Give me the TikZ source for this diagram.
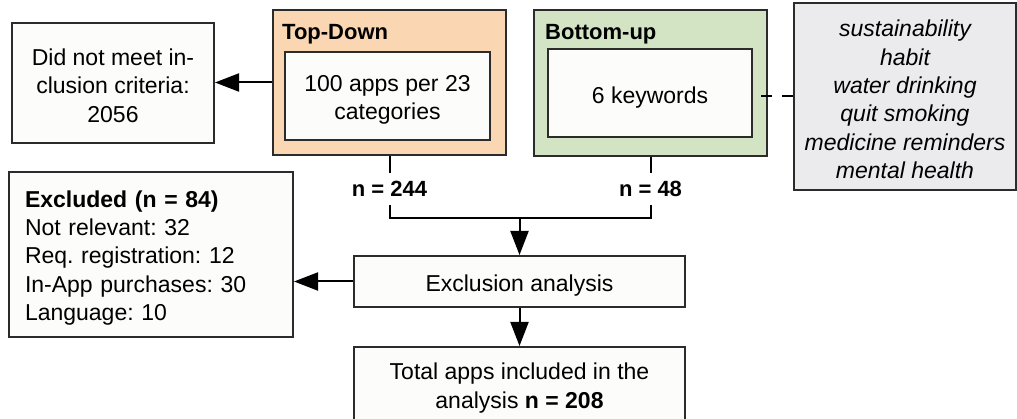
\documentclass[tikz,border=0pt]{standalone}
\usepackage{fontspec}
\setmainfont{Liberation Sans}
\frenchspacing
\usetikzlibrary{arrows.meta}
\definecolor{edge}{HTML}{2B2B2B}
\definecolor{peach}{HTML}{FAD6B2}
\definecolor{sage}{HTML}{D3E4C5}
\definecolor{mist}{HTML}{EBEBEE}
\definecolor{paper}{HTML}{FCFCFA}
\begin{document}
\begin{tikzpicture}[x=1pt,y=-1pt,
  every node/.style={font=\fontsize{23}{28.4}\selectfont, text=black},
  box/.style={draw=edge, line width=2pt, fill=paper, inner sep=0pt},
  txt/.style={inner sep=0pt, align=center},
  group/.style={draw=edge, line width=2pt, inner sep=0pt},
  grouptitle/.style={font=\fontsize{22}{26}\selectfont\bfseries, inner sep=0pt, anchor=base west},
  tally/.style={font=\fontsize{22}{26}\selectfont\bfseries, inner sep=0pt, minimum height=32pt},
  link/.style={draw=black, line width=2pt},
  arr/.style={link, -{Triangle[length=24pt,width=18pt]}},
]
\useasboundingbox (0,0) rectangle (1017,419);

% rejected in the first screening
\node[box, minimum width=202pt, minimum height=120pt] (dnm) at (113,83) {};
\node[txt] (dnm-t) at ([yshift=-2.5pt]dnm.center) {Did not meet in-\\clusion criteria:\\2056};

% top-down search
\node[group, fill=peach, minimum width=233pt, minimum height=145pt] (td) at (389.5,82.5) {};
\node[grouptitle] (tdt) at (282,39.5) {Top-Down};
\node[box, minimum width=205pt, minimum height=88pt] (cat) at (387.5,96) {};
\node[txt] (cat-t) at ([yshift=-4pt]cat.center) {100 apps per 23\\categories};

% bottom-up search
\node[group, fill=sage, minimum width=233pt, minimum height=146pt] (bu) at (650.5,83) {};
\node[grouptitle] (but) at (545,39.5) {Bottom-up};
\node[box, minimum width=204pt, minimum height=88pt] (kw) at (650,93) {};
\node[txt] (kw-t) at ([yshift=-5pt]kw.center) {6 keywords};

% keyword list
\node[box, fill=mist, minimum width=222pt, minimum height=187pt] (kwlist) at (905,96.5) {};
\node[txt, font=\fontsize{23}{28.4}\selectfont\itshape] (kwlist-t) at ([yshift=-3pt]kwlist.center)
  {sustainability\\habit\\water drinking\\quit smoking\\medicine reminders\\mental health};

% counts per search
\node[tally] (n244) at (389.5,189) {n = 244};
\node[tally] (n48) at (650.5,189) {n = 48};
\coordinate (merge) at (519.5,218);

% exclusion step
\node[box, minimum width=331pt, minimum height=51pt] (excl) at (519.5,281.5) {};
\node[txt] (excl-t) at ([yshift=-4pt]excl.center) {Exclusion analysis};
\node[box, minimum width=284pt, minimum height=165pt] (out) at (151,254.5) {};
\node[txt, text width=252pt, align=left] (out-t) at ([yshift=-3.5pt]out.center)
  {\textbf{Excluded (n = 84)}\\Not relevant: 32\\Req. registration: 12\\In-App purchases: 30\\Language: 10};

% final set
\node[box, minimum width=331pt, minimum height=76pt] (total) at (519.5,385) {};
\node[txt] (total-t) at ([yshift=-3pt]total.center) {Total apps included in the\\analysis \textbf{n = 208}};

% connectors
\draw[arr] (td.west) -- (td.west -| dnm.east);
\draw[link, dash pattern=on 11pt off 10pt] ([yshift=-3pt]kwlist.west |- kw.east) -- ([yshift=-3pt]kw.east);
\draw[link] (td.south) -- (n244.north);
\draw[link] (bu.south) -- (n48.north);
\draw[link] (n244.south) |- (merge) -| (n48.south);
\draw[arr] (merge) -- (excl.north);
\draw[arr] (excl.west) -- (excl.west -| out.east);
\draw[arr] (excl.south) -- (total.north);
\end{tikzpicture}
\end{document}
